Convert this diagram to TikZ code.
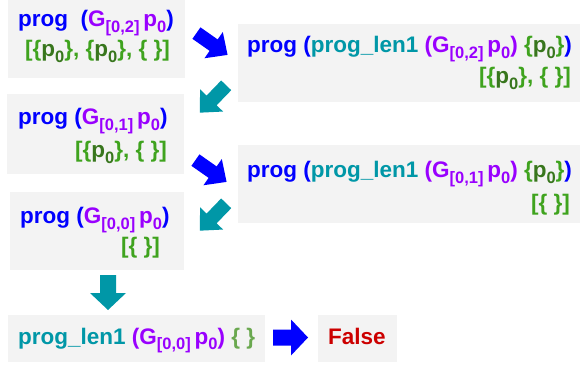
\documentclass[tikz,border=0pt]{standalone}
\usepackage{fontspec}
\setmainfont{Liberation Sans}
\definecolor{cblue}{HTML}{0000FF}
\definecolor{cpurple}{HTML}{9900FF}
\definecolor{cteal}{HTML}{0097A7}
\definecolor{cgreen}{HTML}{3FA31E}
\definecolor{cdgreen}{HTML}{38761D}
\definecolor{clgreen}{HTML}{6AA84F}
\definecolor{cred}{HTML}{CC0000}
\definecolor{cbox}{HTML}{F3F3F3}
\newcommand\sbs[1]{\raisebox{-5.5pt}{\fontsize{16.5}{17}\selectfont #1}}
\newcommand\Gs[1]{\textcolor{cpurple}{G\sbs{#1}\,p\sbs{0}}}
\newcommand\pz{\textcolor{cdgreen}{p\sbs{0}}}
\begin{document}
\begin{tikzpicture}[x=1pt,y=-1pt,
  box/.style={fill=cbox, draw=none, inner sep=0pt},
  txt/.style={inner sep=0pt, font=\bfseries\fontsize{22.5}{27}\selectfont},
  diagarrow/.pic={\fill[#1] (-19,-7)--(2,-7)--(2,-16)--(19,0)--(2,16)--(2,7)--(-19,7)--cycle;},
  straightarrow/.pic={\fill[#1] (-17.5,-8)--(0.5,-8)--(0.5,-18)--(17.5,0)--(0.5,18)--(0.5,8)--(-17.5,8)--cycle;}
]
\useasboundingbox (0,0) rectangle (581,366);
% boxes
\node[box, minimum width=177, minimum height=78] (b1) at (96.5,39) {};
\node[box, minimum width=342, minimum height=78] (b2) at (409,63) {};
\node[box, minimum width=177, minimum height=80] (b3) at (95.5,134) {};
\node[box, minimum width=342, minimum height=78] (b4) at (409,184) {};
\node[box, minimum width=174, minimum height=78] (b5) at (97,231) {};
\node[box, minimum width=257, minimum height=47] (b6) at (136.5,338.5) {};
\node[box, minimum width=79, minimum height=47] (b7) at (357.5,338.5) {};
% texts
\node[txt, anchor=base west] (t1a) at (18,27) {\textcolor{cblue}{prog \ (}\Gs{[0,2]}\textcolor{cblue}{)}};
\node[txt, anchor=base east] (t1b) at (170,57) {\textcolor{cgreen}{[\{}\pz\textcolor{cgreen}{\}, \{}\pz\textcolor{cgreen}{\}, \{ \}]}};
\node[txt, anchor=base west] (t2a) at (247,53) {\textcolor{cblue}{prog (}\textcolor{cteal}{prog\_len1 }\textcolor{cpurple}{(}\Gs{[0,2]}\textcolor{cpurple}{)} \textcolor{cgreen}{\{}\pz\textcolor{cgreen}{\}}\textcolor{cblue}{)}};
\node[txt, anchor=base east] (t2b) at (571,84) {\textcolor{cgreen}{[\{}\pz\textcolor{cgreen}{\}, \{ \}]}};
\node[txt, anchor=base west] (t3a) at (18,125) {\textcolor{cblue}{prog (}\Gs{[0,1]}\textcolor{cblue}{)}};
\node[txt, anchor=base east] (t3b) at (167,158) {\textcolor{cgreen}{[\{}\pz\textcolor{cgreen}{\}, \{ \}]}};
\node[txt, anchor=base west] (t4a) at (247,178) {\textcolor{cblue}{prog (}\textcolor{cteal}{prog\_len1 }\textcolor{cpurple}{(}\Gs{[0,1]}\textcolor{cpurple}{)} \textcolor{cgreen}{\{}\pz\textcolor{cgreen}{\}}\textcolor{cblue}{)}};
\node[txt, anchor=base east] (t4b) at (570,211) {\textcolor{cgreen}{[\{ \}]}};
\node[txt, anchor=base west] (t5a) at (20,224) {\textcolor{cblue}{prog (}\Gs{[0,0]}\textcolor{cblue}{)}};
\node[txt, anchor=base east] (t5b) at (160,254) {\textcolor{cgreen}{[\{ \}]}};
\node[txt, anchor=base west] (t6) at (18,344) {\textcolor{cteal}{prog\_len1 }\textcolor{cpurple}{(}\Gs{[0,0]}\textcolor{cpurple}{)} \textcolor{clgreen}{\{ \}}};
\node[txt, anchor=base west] (t7) at (328,344) {\textcolor{cred}{False}};
% block arrows
\pic[rotate=-35] at (212,44) {diagarrow=cblue};
\pic[rotate=-134] at (213,99) {diagarrow=cteal};
\pic[rotate=-35] at (211,171) {diagarrow=cblue};
\pic[rotate=-134] at (213,217) {diagarrow=cteal};
\pic[rotate=-90] at (108,292.5) {straightarrow=cteal};
\pic at (290.5,337.5) {straightarrow=cblue};
\end{tikzpicture}
\end{document}
